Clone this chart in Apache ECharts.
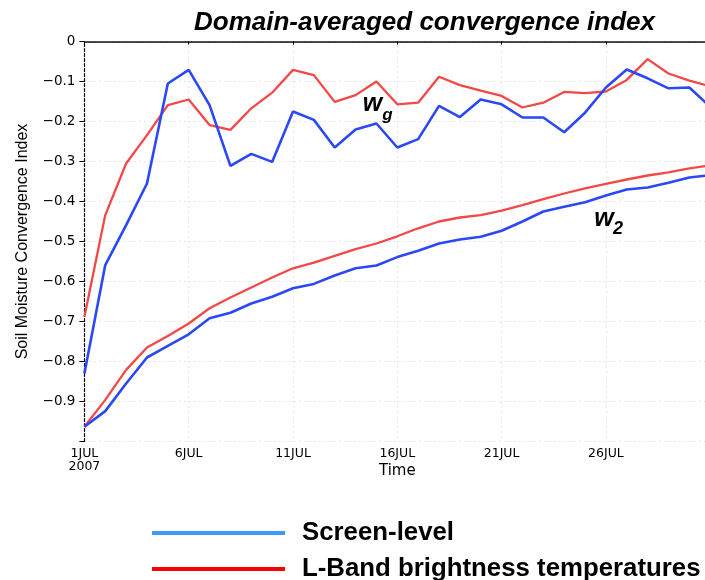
<!DOCTYPE html>
<html>
<head>
<meta charset="utf-8">
<script src="https://cdn.jsdelivr.net/npm/echarts@6/dist/echarts.min.js"></script>
<style>html,body{margin:0;padding:0;background:#fff;}#c{width:705px;height:580px;}</style>
</head>
<body>
<div id="c"></div>
<script>
const dates = ['1JUL','2JUL','3JUL','4JUL','5JUL','6JUL','7JUL','8JUL','9JUL','10JUL',
  '11JUL','12JUL','13JUL','14JUL','15JUL','16JUL','17JUL','18JUL','19JUL','20JUL',
  '21JUL','22JUL','23JUL','24JUL','25JUL','26JUL','27JUL','28JUL','29JUL','30JUL','31JUL'];

const screenWg = [-0.830,-0.559,-0.459,-0.355,-0.105,-0.071,-0.159,-0.311,-0.281,-0.301,
  -0.175,-0.196,-0.265,-0.220,-0.205,-0.265,-0.244,-0.161,-0.189,-0.145,
  -0.157,-0.190,-0.190,-0.227,-0.178,-0.115,-0.070,-0.092,-0.117,-0.115,-0.163];
const lbandWg = [-0.688,-0.434,-0.305,-0.234,-0.159,-0.145,-0.209,-0.221,-0.167,-0.128,
  -0.071,-0.084,-0.151,-0.134,-0.100,-0.157,-0.153,-0.088,-0.109,-0.123,
  -0.136,-0.165,-0.153,-0.126,-0.129,-0.125,-0.096,-0.044,-0.080,-0.098,-0.112];
const screenW2 = [-0.963,-0.924,-0.855,-0.790,-0.761,-0.732,-0.692,-0.678,-0.655,-0.638,
  -0.617,-0.606,-0.585,-0.567,-0.560,-0.539,-0.523,-0.505,-0.495,-0.488,
  -0.473,-0.450,-0.425,-0.413,-0.402,-0.385,-0.370,-0.365,-0.353,-0.340,-0.334];
const lbandW2 = [-0.963,-0.896,-0.821,-0.765,-0.736,-0.705,-0.667,-0.640,-0.615,-0.590,
  -0.567,-0.553,-0.536,-0.519,-0.505,-0.487,-0.467,-0.450,-0.440,-0.434,
  -0.423,-0.409,-0.394,-0.380,-0.367,-0.356,-0.345,-0.335,-0.327,-0.317,-0.310];

const yearLabel = '2007';
const titleText = 'Domain-averaged convergence index';
const yName = 'Soil Moisture Convergence Index';
const xName = 'Time';
const nameScreen = 'Screen-level';
const nameLband = 'L-Band brightness temperatures';

const BLUE = '#2b48f6';
const RED = '#f44848';

const chart = echarts.init(document.getElementById('c'), null, {renderer: 'canvas'});

function annot(idx, val, text, size, dx) {
  return {
    coord: [idx, val],
    symbol: 'circle', symbolSize: 1,
    itemStyle: {color: 'rgba(0,0,0,0)'},
    label: {show: true, position: 'inside', formatter: text, offset: [dx, 0],
      fontFamily: 'Liberation Sans, Arial', fontWeight: 'bold', fontStyle: 'italic',
      fontSize: size, color: '#000'}
  };
}

const lineBase = {type: 'line', showSymbol: false, symbol: 'none', smooth: false};
const legendText = {fontFamily: 'Liberation Sans, Arial', fontWeight: 'bold', fontSize: 25.8, color: '#000', lineHeight: 26, padding: [0,0,0,12]};

chart.setOption({
  animation: false,
  backgroundColor: '#fff',
  title: {
    text: titleText, left: 189, top: 5,
    textStyle: {fontFamily: 'Liberation Sans, Arial', fontWeight: 'bold', fontStyle: 'italic', fontSize: 26, color: '#000'}
  },
  legend: [{
    orient: 'vertical', left: 147, top: 515,
    icon: 'rect', itemWidth: 133, itemHeight: 4, textStyle: legendText,
    data: [{name: nameScreen, itemStyle: {color: '#3d9bf2'}}]
  }, {
    orient: 'vertical', left: 147, top: 551,
    icon: 'rect', itemWidth: 133, itemHeight: 4, textStyle: legendText,
    data: [{name: nameLband, itemStyle: {color: '#ff0000'}}]
  }],
  grid: {left: 84.4, top: 41.5, width: 625.8, height: 400, containLabel: false, outerBoundsMode: 'none'},
  xAxis: [{
    type: 'category', data: dates, boundaryGap: false,
    name: xName, nameLocation: 'middle', nameGap: 22, nameMoveOverlap: false,
    nameTextStyle: {fontFamily: 'DejaVu Sans', fontSize: 15, color: '#000'},
    axisLine: {show: true, lineStyle: {color: '#000', width: 1.5}},
    axisTick: {show: true, interval: 4, length: 3, lineStyle: {color: '#000'}},
    axisLabel: {
      interval: 4, margin: 6, color: '#000', fontFamily: 'DejaVu Sans', fontSize: 12.5, lineHeight: 13,
      formatter: function (v, i) {
        if (i === 0) return v + '\n' + yearLabel;
        if (i >= dates.length - 1) return '';
        return v;
      }
    },
    splitLine: {show: true, interval: 4, lineStyle: {color: '#cfcfcf', type: [1, 4], width: 1}}
  }, {
    type: 'category', data: dates, boundaryGap: false, position: 'top',
    axisLine: {show: true, lineStyle: {color: '#555', width: 1.2, type: [4, 2]}},
    axisTick: {show: false}, axisLabel: {show: false}, splitLine: {show: false}
  }],
  yAxis: {
    type: 'value', min: -1, max: 0, interval: 0.1,
    name: yName, nameLocation: 'middle', nameGap: 54, nameRotate: 90, nameMoveOverlap: false,
    nameTextStyle: {fontFamily: 'Liberation Sans, Arial', fontSize: 16, color: '#000'},
    axisLine: {show: true, lineStyle: {color: '#000', width: 1.2, type: [3, 2]}},
    axisTick: {show: true, length: 5, lineStyle: {color: '#000'}},
    axisLabel: {
      margin: 9, color: '#000', fontFamily: 'DejaVu Sans', fontSize: 13.5,
      formatter: function (v) {
        if (v <= -0.999) return '';
        if (Math.abs(v) < 1e-9) return '0';
        return '\u2212' + Math.abs(v).toFixed(1);
      }
    },
    splitLine: {show: true, lineStyle: {color: '#cfcfcf', type: [1, 4], width: 1}}
  },
  series: [
    Object.assign({}, lineBase, {name: nameScreen, data: screenW2, lineStyle: {color: BLUE, width: 2.6}, itemStyle: {color: BLUE}, z: 3}),
    Object.assign({}, lineBase, {name: nameLband, data: lbandW2, lineStyle: {color: RED, width: 2.3}, itemStyle: {color: RED}, z: 2}),
    Object.assign({}, lineBase, {name: nameLband, data: lbandWg, lineStyle: {color: RED, width: 2.3}, itemStyle: {color: RED}, z: 2,
      markPoint: {silent: true, data: [
        annot(25, -0.4445, 'w', 25, -2),
        annot(25, -0.468, '2', 18, 12)
      ]}}),
    Object.assign({}, lineBase, {name: nameScreen, data: screenWg, lineStyle: {color: BLUE, width: 2.6}, itemStyle: {color: BLUE}, z: 3,
      markPoint: {silent: true, data: [
        annot(14, -0.157, 'w', 25, -4),
        annot(14, -0.184, 'g', 17, 11)
      ]}})
  ]
});
</script>
</body>
</html>
